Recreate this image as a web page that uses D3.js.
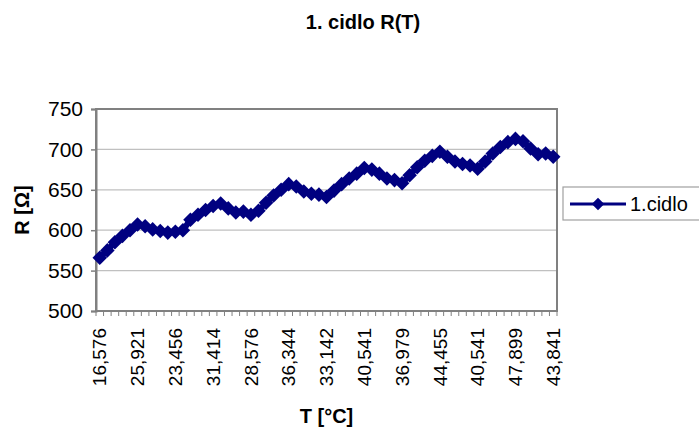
<!DOCTYPE html>
<html>
<head>
<meta charset="utf-8">
<script src="https://cdn.jsdelivr.net/npm/d3@7"></script>
<style>
  html, body { margin: 0; padding: 0; background: #fff; }
  svg { display: block; font-family: "Liberation Sans", Arial, sans-serif; }
</style>
</head>
<body>
<svg id="chart" width="699" height="430"></svg>
<script>
// Temperature readings (°C) used as category labels, in measurement order
const temperatures = [
  "16,576", "18,402", "20,215", "22,037", "23,998", "25,921",
  "25,412", "24,896", "24,418", "23,917", "23,456",
  "25,124", "26,789", "28,367", "29,935", "31,414",
  "30,852", "30,268", "29,691", "29,139", "28,576",
  "30,164", "31,733", "33,291", "34,827", "36,344",
  "35,706", "35,063", "34,418", "33,781", "33,142",
  "34,637", "36,118", "37,592", "39,071", "40,541",
  "39,809", "39,088", "38,367", "37,664", "36,979",
  "38,493", "39,998", "41,497", "42,981", "44,455",
  "43,664", "42,867", "42,074", "41,302", "40,541",
  "42,029", "43,511", "44,987", "46,449", "47,899",
  "47,082", "46,268", "45,456", "44,647", "43,841"
];

// Resistance of sensor 1 (Ω) at each reading
const resistance = [
  566, 575, 585, 593, 600, 607,
  605, 601, 599, 597, 598,
  600, 613, 619, 625, 630,
  633, 627, 622, 623, 619,
  624, 634, 643, 650, 657,
  654, 648, 645, 644, 641,
  649, 657, 664, 670, 677,
  675, 670, 664, 662, 658,
  668, 678, 686, 692, 697,
  691, 685, 682, 680, 676,
  685, 695, 703, 709, 713,
  710, 701, 694, 695, 691
];

const yTicks = [500, 550, 600, 650, 700, 750];
const labelEvery = 5;
const seriesName = "1.cidlo";
const chartTitle = "1. cidlo R(T)";
const xTitle = "T [°C]";
const yTitle = "R [Ω]";

const svg = d3.select("#chart");
const plot = { left: 96, right: 557, top: 109, bottom: 311 };
const navy = "#000080";
const axisGray = "#808080";

const idx = d3.range(temperatures.length);
const x = d3.scalePoint().domain(idx).range([plot.left, plot.right]).padding(0.5);
const xBand = d3.scaleBand().domain(idx).range([plot.left, plot.right]);
const y = d3.scaleLinear().domain([500, 750]).range([plot.bottom, plot.top]);

// Gridlines
svg.append("g")
  .selectAll("line")
  .data(yTicks.slice(1, -1))
  .join("line")
  .attr("x1", plot.left).attr("x2", plot.right)
  .attr("y1", d => y(d)).attr("y2", d => y(d))
  .attr("stroke", "#c0c0c0").attr("stroke-width", 1.2);

// Plot frame
svg.append("rect")
  .attr("x", plot.left).attr("y", plot.top)
  .attr("width", plot.right - plot.left).attr("height", plot.bottom - plot.top)
  .attr("fill", "none").attr("stroke", axisGray).attr("stroke-width", 2);

// Y axis
const yAxis = svg.append("g")
  .attr("transform", `translate(${plot.left},0)`)
  .call(d3.axisLeft(y).tickValues(yTicks).tickSize(5).tickPadding(8).tickFormat(d3.format("d")));
yAxis.select(".domain").attr("stroke", axisGray).attr("stroke-width", 2);
yAxis.selectAll(".tick line").attr("stroke", axisGray).attr("stroke-width", 1.5);
yAxis.selectAll(".tick text").attr("fill", "#000").style("font-size", "21px");

// X axis tick marks at category boundaries
const boundaries = idx.map(i => xBand(i)).concat([xBand(idx[idx.length - 1]) + xBand.bandwidth()]);
svg.append("g")
  .selectAll("line")
  .data(boundaries)
  .join("line")
  .attr("x1", d => d).attr("x2", d => d)
  .attr("y1", plot.bottom).attr("y2", plot.bottom + 5)
  .attr("stroke", axisGray).attr("stroke-width", 1);

// X axis labels (every fifth reading), rotated
const labelIdx = idx.filter(i => i % labelEvery === 0);
svg.append("g")
  .selectAll("text")
  .data(labelIdx)
  .join("text")
  .attr("transform", i => `translate(${x(i)},${plot.bottom + 17}) rotate(-90)`)
  .attr("text-anchor", "end")
  .attr("dy", "0.35em")
  .style("font-size", "19px")
  .text(i => temperatures[i]);

// Series line and diamond markers
const line = d3.line().x((d, i) => x(i)).y(d => y(d));
svg.append("path")
  .datum(resistance)
  .attr("d", line)
  .attr("fill", "none")
  .attr("stroke", navy)
  .attr("stroke-width", 6)
  .attr("stroke-linejoin", "round");

const diamond = d3.symbol().type(d3.symbolDiamond2).size(135);
svg.append("g")
  .selectAll("path")
  .data(resistance)
  .join("path")
  .attr("transform", (d, i) => `translate(${x(i)},${y(d)})`)
  .attr("d", diamond)
  .attr("fill", navy);

// Titles
svg.append("text")
  .attr("x", 363).attr("y", 29)
  .attr("text-anchor", "middle")
  .style("font-size", "20px").style("font-weight", "bold")
  .text(chartTitle);

svg.append("text")
  .attr("x", (plot.left + plot.right) / 2).attr("y", 423)
  .attr("text-anchor", "middle")
  .style("font-size", "20px").style("font-weight", "bold")
  .text(xTitle);

svg.append("text")
  .attr("transform", `translate(29,${(plot.top + plot.bottom) / 2}) rotate(-90)`)
  .attr("text-anchor", "middle")
  .style("font-size", "20px").style("font-weight", "bold")
  .text(yTitle);

// Legend
const legend = svg.append("g").attr("transform", "translate(563,187)");
legend.append("rect")
  .attr("x", 0).attr("y", 0).attr("width", 145).attr("height", 33)
  .attr("fill", "#fff").attr("stroke", "#a0a0a0").attr("stroke-width", 1.2);
legend.append("line")
  .attr("x1", 7).attr("x2", 63).attr("y1", 17).attr("y2", 17)
  .attr("stroke", navy).attr("stroke-width", 3);
legend.append("path")
  .attr("transform", "translate(35,17)")
  .attr("d", d3.symbol().type(d3.symbolDiamond2).size(100))
  .attr("fill", navy);
legend.append("text")
  .attr("x", 67).attr("y", 17).attr("dy", "0.35em")
  .style("font-size", "20px")
  .text(seriesName);
</script>
</body>
</html>
